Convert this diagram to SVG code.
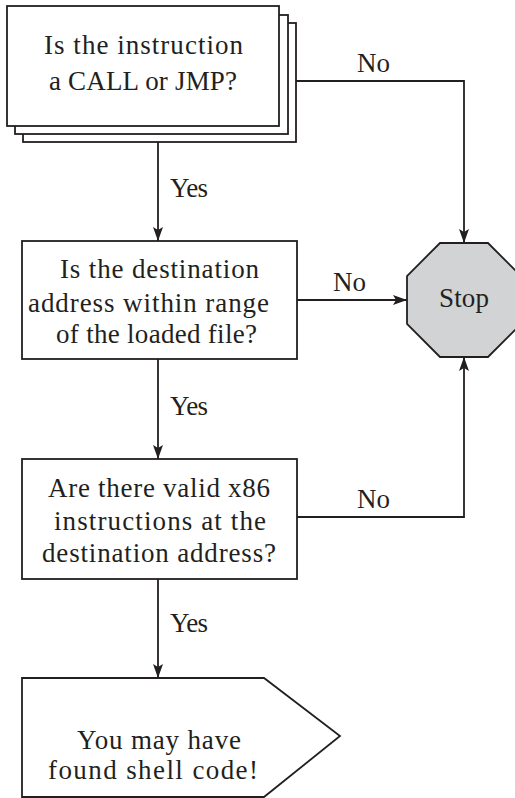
<svg xmlns="http://www.w3.org/2000/svg" width="515" height="798" viewBox="0 0 515 798">
<style>
.box{fill:#fff;stroke:#231f20;stroke-width:1.8}
.stop{fill:#d1d3d4;stroke:#231f20;stroke-width:1.8}
text{font-family:"Liberation Serif","Times New Roman",serif;font-size:27px;fill:#231f20}
.c{fill:none;stroke:#231f20;stroke-width:1.8}
</style>
<defs>
<marker id="ah" viewBox="0 0 14 10" refX="14" refY="5" markerWidth="14" markerHeight="10" markerUnits="userSpaceOnUse" orient="auto">
<path d="M0,0 L14,5 L0,10 L3,5 z" fill="#231f20"/>
</marker>
</defs>
<g id="n1">
<rect class="box" x="23" y="23" width="273" height="119"/>
<rect class="box" x="15" y="15" width="273" height="119"/>
<rect class="box" x="7" y="6" width="272" height="120"/>
<text x="44" y="54" textLength="199" lengthAdjust="spacing">Is the instruction</text>
<text x="49" y="90" textLength="188" lengthAdjust="spacing">a CALL or JMP?</text>
</g>
<g id="n2">
<rect class="box" x="22" y="241" width="275" height="118"/>
<text x="60" y="278" textLength="199" lengthAdjust="spacing">Is the destination</text>
<text x="28" y="312" textLength="241" lengthAdjust="spacing">address within range</text>
<text x="56" y="343" textLength="201" lengthAdjust="spacing">of the loaded file?</text>
</g>
<g id="n3">
<rect class="box" x="22" y="459" width="275" height="120"/>
<text x="48" y="497" textLength="222" lengthAdjust="spacing">Are there valid x86</text>
<text x="54" y="530" textLength="212" lengthAdjust="spacing">instructions at the</text>
<text x="42" y="562" textLength="234" lengthAdjust="spacing">destination address?</text>
</g>
<g id="stop">
<polygon class="stop" points="440,243 488,243 521,276 521,324 488,357 440,357 407,324 407,276"/>
<text x="439" y="307" textLength="50" lengthAdjust="spacing">Stop</text>
</g>
<g id="end">
<polygon class="box" points="22,678 264,678 340,736 264,797 22,797"/>
<text x="77" y="749" textLength="164" lengthAdjust="spacing">You may have</text>
<text x="48" y="779" textLength="210" lengthAdjust="spacing">found shell code!</text>
</g>
<g id="connectors">
<path class="c" d="M158,142 V241" marker-end="url(#ah)"/>
<path class="c" d="M158,359 V459" marker-end="url(#ah)"/>
<path class="c" d="M158,579 V678" marker-end="url(#ah)"/>
<path class="c" d="M296,81 H464 V243" marker-end="url(#ah)"/>
<path class="c" d="M297,300 H407" marker-end="url(#ah)"/>
<path class="c" d="M297,517 H464 V357" marker-end="url(#ah)"/>
<text x="170" y="197" textLength="38" lengthAdjust="spacing">Yes</text>
<text x="170" y="415" textLength="38" lengthAdjust="spacing">Yes</text>
<text x="170" y="632" textLength="38" lengthAdjust="spacing">Yes</text>
<text x="357" y="72" textLength="33" lengthAdjust="spacing">No</text>
<text x="333" y="291" textLength="33" lengthAdjust="spacing">No</text>
<text x="357" y="508" textLength="33" lengthAdjust="spacing">No</text>
</g>
</svg>
